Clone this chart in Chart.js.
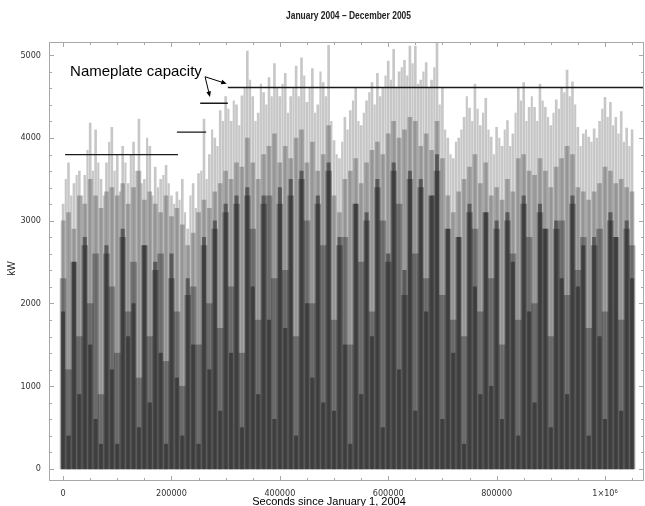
<!DOCTYPE html>
<html lang="en">
<head>
  <meta charset="UTF-8" />
  <title>Wind farm output, 2004-2005</title>
  <script src="https://cdn.jsdelivr.net/npm/chart.js@4.4.0/dist/chart.umd.min.js"></script>
  <style>
    html, body { margin: 0; padding: 0; background: #fff; }
  </style>
</head>
<body>
  <canvas id="kwChart" width="645" height="506"></canvas>

  <script>
    // one sample every 10000 s, starting at 0
    const sampleStart = 0;
    const sampleStep = 10000;

    // highest spikes (light grey)
    const peakKw = [
      3200, 3700, 3450, 3600, 3550, 4180, 4100, 3500, 3700, 4130,
      3800, 3900, 3450, 3950, 4230, 3500, 3900, 3650, 3500, 3670,
      3300, 3350, 3500, 2900, 3450, 3570, 4230, 3800, 4000, 4330,
      4500, 4200, 4400, 4510, 5050, 4500, 4300, 4550, 4730, 4900,
      4500, 4780, 4500, 4870, 4970, 4430, 4840, 4400, 4670, 5120,
      3970, 3750, 4250, 4330, 4600, 4150, 4450, 4670, 4780, 4600,
      4930, 5070, 4800, 4940, 5110, 5110, 4700, 4910, 4700, 5150,
      4610, 4000, 3750, 4000, 4250, 4360, 4650, 4150, 4480, 4010,
      4130, 3900, 4210, 4050, 4610, 4670, 4370, 4370, 4650, 4370,
      4150, 4460, 4610, 4820, 4680, 4130, 4050, 4010, 4110, 4200,
      4490, 4430, 4250, 4320, 4120, 4100
    ];
    // thin spikes half way between samples
    const spikeKw = [
      3500, 3300, 3550, 3300, 3850, 3600, 3700, 3300, 3950, 3600,
      3350, 3700, 3800, 3600, 3450, 4000, 3300, 3400, 3550, 3450,
      3200, 3250, 3100, 3300, 3150, 3600, 3500, 4100, 3900, 4200,
      4350, 4450, 4150, 4600, 4700, 4200, 4650, 4400, 4500, 4600,
      4650, 4300, 4600, 4500, 4750, 4600, 4300, 4800, 4500, 4200,
      3800, 3950, 4100, 4450, 4200, 4300, 4550, 4400, 4500, 4750,
      4700, 4600, 4850, 4750, 4900, 4650, 4800, 4600, 4850, 4400,
      4100, 3800, 3950, 4100, 4500, 4200, 4350, 4300, 4100, 3800,
      4000, 4100, 3900, 4300, 4450, 4200, 4500, 4200, 4450, 4250,
      4300, 4350, 4550, 4500, 4400, 3900, 4100, 3950, 4000, 4350,
      4250, 4150, 4050, 3950, 3900
    ];
    const highKw = [
      3000, 3100, 2900, 3300, 3200, 3500, 3300, 3150, 3350, 3400,
      3300, 3450, 3200, 3400, 3600, 3250, 3350, 3200, 3100, 3300,
      3050, 3150, 2950, 2700, 2850, 3100, 3250, 3150, 3350, 3450,
      3600, 3500, 3700, 3650, 4000, 3700, 3500, 3800, 3900, 4050,
      3700, 3900, 3750, 4000, 4100, 3700, 3950, 3600, 3800, 4150,
      3300, 3100, 3500, 3600, 3750, 3450, 3700, 3850, 3950, 3800,
      4050, 4200, 4000, 4100, 4250, 4200, 3900, 4050, 3850, 4200,
      3750, 3300, 3100, 3350, 3500, 3650, 3800, 3450, 3700, 3300,
      3400, 3250, 3500, 3350, 3750, 3800, 3600, 3550, 3750, 3600,
      3400, 3650, 3750, 3900, 3800, 3400, 3350, 3250, 3350, 3450,
      3650, 3600, 3450, 3500, 3400, 3350
    ];
    const midKw = [
      2300, 1200, 2500, 1600, 2700, 2000, 2600, 900, 2600, 2200,
      1400, 2800, 1900, 2500, 1100, 2700, 1600, 2400, 2600, 1300,
      2300, 1900, 1000, 2100, 2200, 1500, 2700, 2000, 2900, 1700,
      3100, 2200, 3200, 1400, 3300, 2900, 1800, 3200, 3300, 2300,
      3200, 2400, 3300, 1600, 3500, 3000, 2000, 3200, 2700, 3600,
      1800, 2700, 2800, 1500, 3200, 2500, 3000, 1900, 3400, 3000,
      2500, 3600, 3200, 2100, 3500, 2600, 3400, 2300, 3300, 3600,
      2100, 2900, 1800, 2800, 1600, 3100, 2900, 1900, 3100, 2300,
      2900, 1500, 3000, 2600, 1800, 3200, 2800, 2000, 3100, 2900,
      1600, 2900, 3000, 2100, 3200, 2400, 2800, 1700, 2700, 2900,
      1900, 3000, 2800, 1800, 2900, 2700
    ];
    // darkest layer
    const lowKw = [
      1900, 400, 2500, 900, 2800, 1500, 600, 300, 2700, 1200,
      300, 2900, 1600, 2000, 500, 2700, 800, 2500, 1400, 300,
      2600, 1100, 400, 2300, 1500, 300, 2800, 1200, 3000, 700,
      3200, 1400, 3300, 500, 3400, 2200, 900, 3300, 1800, 600,
      3400, 1700, 3500, 400, 3600, 2000, 1100, 3300, 800, 3700,
      700, 2800, 1500, 300, 3200, 900, 3100, 1600, 3500, 500,
      2600, 3700, 1200, 2400, 3600, 700, 3500, 1900, 3300, 3800,
      600, 2900, 1400, 2800, 300, 3200, 2200, 900, 3100, 1000,
      3000, 600, 3100, 2500, 400, 3300, 1900, 800, 3200, 2900,
      500, 3000, 2300, 900, 3300, 2200, 2700, 400, 2800, 1600,
      600, 3100, 2800, 700, 3000, 2300
    ];

    // nameplate capacity steps
    const nameplateFrom = [3700, 210000, 253000, 304000];
    const nameplateTo = [212000, 264000, 304000, 1072000];
    const nameplateKw = [3800, 4070, 4420, 4610];

    // axis ticks
    const xMajorTicks = [0, 200000, 400000, 600000, 800000, 1000000];
    const xMinorStep = 50000;
    const yMajorTicks = [0, 1000, 2000, 3000, 4000, 5000];
    const yMinorStep = 200;

    const seconds = peakKw.map((v, i) => sampleStart + i * sampleStep);
    const midSeconds = spikeKw.map((v, i) => sampleStart + (i + 0.5) * sampleStep);

    function toPoints(values, times) {
      return values.map((v, i) => ({ x: times[i], y: v }));
    }

    const nameplatePoints = [];
    nameplateKw.forEach((kw, i) => {
      nameplatePoints.push({ x: nameplateFrom[i], y: kw });
      nameplatePoints.push({ x: nameplateTo[i], y: kw });
      nameplatePoints.push({ x: nameplateTo[i], y: null });
    });

    function minorTicks(first, last, step) {
      const out = [];
      for (let v = first; v <= last; v += step) out.push({ value: v });
      return out;
    }

    const narrowFont = '"Liberation Sans Narrow", "DejaVu Sans Condensed", "Liberation Sans", Arial, sans-serif';
    const plainFont = '"Liberation Sans", Arial, sans-serif';

    function barSet(values, times, alpha, thickness) {
      return {
        type: "bar",
        data: toPoints(values, times),
        backgroundColor: `rgba(0, 0, 0, ${alpha})`,
        borderWidth: 0,
        barThickness: thickness,
        grouped: false,
        order: 1,
      };
    }

    // frame, inward ticks, titles and the annotation
    const framePlugin = {
      id: "frame",
      afterDraw(chart) {
        const { ctx, chartArea: a, scales } = chart;
        const x = scales.x, y = scales.y;
        ctx.save();
        ctx.strokeStyle = "#a8a8a8";
        ctx.lineWidth = 1;
        ctx.strokeRect(a.left + 0.5, a.top + 0.5, a.right - a.left - 1, a.bottom - a.top - 1);
        ctx.beginPath();
        x.ticks.forEach((t) => {
          const px = Math.round(x.getPixelForValue(t.value)) + 0.5;
          const len = xMajorTicks.includes(t.value) ? 5 : 3;
          ctx.moveTo(px, a.bottom); ctx.lineTo(px, a.bottom - len);
          ctx.moveTo(px, a.top); ctx.lineTo(px, a.top + len);
        });
        y.ticks.forEach((t) => {
          const py = Math.round(y.getPixelForValue(t.value)) + 0.5;
          const len = yMajorTicks.includes(t.value) ? 5 : 3;
          ctx.moveTo(a.left, py); ctx.lineTo(a.left + len, py);
          ctx.moveTo(a.right, py); ctx.lineTo(a.right - len, py);
        });
        ctx.stroke();

        // chart title, squeezed to the narrow face of the original
        ctx.fillStyle = "#222";
        ctx.textAlign = "center";
        ctx.textBaseline = "middle";
        ctx.font = "bold 10px " + plainFont;
        const title = "January 2004 \u2013 December 2005";
        const sx = 125 / ctx.measureText(title).width;
        ctx.save();
        ctx.translate((a.left + a.right) / 2 + 2, 16);
        ctx.scale(sx, 1);
        ctx.fillText(title, 0, 0);
        ctx.restore();

        ctx.font = "10px " + plainFont;
        ctx.save();
        ctx.translate(12, (a.top + a.bottom) / 2 + 7);
        ctx.rotate(-Math.PI / 2);
        ctx.fillText("kW", 0, 0);
        ctx.restore();

        ctx.fillStyle = "#000";
        ctx.font = "11px " + plainFont;
        ctx.textBaseline = "alphabetic";
        ctx.fillText("Seconds since January 1, 2004", 329, 505);

        // annotation
        ctx.font = "15px " + plainFont;
        ctx.textAlign = "left";
        ctx.textBaseline = "middle";
        ctx.fillText("Nameplate capacity", x.getPixelForValue(12900), y.getPixelForValue(4800));

        const tail = [x.getPixelForValue(262000), y.getPixelForValue(4740)];
        const tips = [
          [x.getPixelForValue(302000), y.getPixelForValue(4655)],
          [x.getPixelForValue(271000), y.getPixelForValue(4495)],
        ];
        ctx.strokeStyle = "#000";
        ctx.lineWidth = 1;
        tips.forEach(([tx, ty]) => {
          const ang = Math.atan2(ty - tail[1], tx - tail[0]);
          ctx.beginPath();
          ctx.moveTo(tail[0], tail[1]);
          ctx.lineTo(tx - 4 * Math.cos(ang), ty - 4 * Math.sin(ang));
          ctx.stroke();
          ctx.beginPath();
          ctx.moveTo(tx, ty);
          ctx.lineTo(tx - 6 * Math.cos(ang - 0.4), ty - 6 * Math.sin(ang - 0.4));
          ctx.lineTo(tx - 6 * Math.cos(ang + 0.4), ty - 6 * Math.sin(ang + 0.4));
          ctx.closePath();
          ctx.fill();
        });
        ctx.restore();
      },
    };

    new Chart(document.getElementById("kwChart").getContext("2d"), {
      type: "bar",
      data: {
        datasets: [
          {
            type: "line",
            data: nameplatePoints,
            borderColor: "#1a1a1a",
            borderWidth: 1.3,
            pointRadius: 0,
            spanGaps: false,
            order: 0,
          },
          barSet(spikeKw, midSeconds, 0.22, 1.5),
          barSet(peakKw, seconds, 0.22, 2),
          barSet(highKw, seconds, 0.25, 4),
          barSet(midKw, seconds, 0.3, 6),
          barSet(lowKw, seconds, 0.42, 3.5),
        ],
      },
      options: {
        responsive: false,
        animation: false,
        layout: { padding: { top: 42, right: 1, bottom: 0, left: 0 } },
        plugins: { legend: { display: false }, tooltip: { enabled: false } },
        scales: {
          x: {
            type: "linear",
            offset: false,
            min: -26000,
            max: 1072000,
            grid: { display: false, drawTicks: false },
            border: { display: false },
            afterFit: (s) => { s.height = 25; },
            afterBuildTicks: (s) => { s.ticks = minorTicks(0, 1050000, xMinorStep); },
            ticks: {
              autoSkip: false,
              maxRotation: 0,
              padding: 7,
              color: "#333",
              font: { family: narrowFont, size: 9 },
              callback: (v) => {
                if (!xMajorTicks.includes(v)) return "";
                return v === 1000000 ? "1\u00d710\u2076" : String(v);
              },
            },
          },
          y: {
            min: -145,
            max: 5160,
            grid: { display: false, drawTicks: false },
            border: { display: false },
            afterFit: (s) => { s.width = 49; },
            afterBuildTicks: (s) => { s.ticks = minorTicks(0, 5000, yMinorStep); },
            ticks: {
              autoSkip: false,
              padding: 8,
              color: "#333",
              font: { family: narrowFont, size: 9 },
              callback: (v) => (yMajorTicks.includes(v) ? String(v) : ""),
            },
          },
        },
      },
      plugins: [framePlugin],
    });
  </script>
</body>
</html>
